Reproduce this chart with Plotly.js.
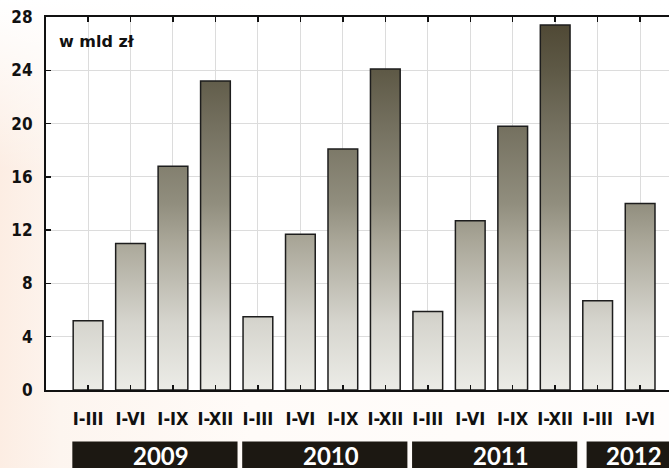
<!DOCTYPE html>
<html>
<head>
<meta charset="utf-8">
<script src="https://cdn.plot.ly/plotly-3.0.1.min.js"></script>
<style>
  html, body { margin: 0; padding: 0; }
  body {
    width: 669px; height: 468px; overflow: hidden;
    background:
      linear-gradient(to bottom, #ffffff 0px, rgba(255,255,255,0) 170px),
      linear-gradient(to right, #fcede3 0px, #fdf5ef 60px, #fffbf8 250px, #fffdfc 669px);
  }
  #chart { width: 669px; height: 468px; }
</style>
</head>
<body>
<div id="chart"></div>
<script>
// Data
const periods = ["I-III", "I-VI", "I-IX", "I-XII",
                 "I-III", "I-VI", "I-IX", "I-XII",
                 "I-III", "I-VI", "I-IX", "I-XII",
                 "I-III", "I-VI"];
const values = [5.2, 11.0, 16.8, 23.2,
                5.5, 11.7, 18.1, 24.1,
                5.9, 12.7, 19.8, 27.4,
                6.7, 14.0];
const years = ["2009", "2010", "2011", "2012"];
const yearFirst = [0, 4, 8, 12];
const yearLast = [3, 7, 11, 13];
const yTicks = [0, 4, 8, 12, 16, 20, 24, 28];
const unitLabel = "w mld zł";

const idx = periods.map((_, i) => i);

const trace = {
  type: "bar",
  x: idx,
  y: values,
  width: 0.7,
  marker: { color: "#a8a597", line: { color: "#1d1d1d", width: 1.5 } },
  hoverinfo: "y"
};

const shapes = [];
const annotations = [];
years.forEach((yr, k) => {
  const last = (k === years.length - 1);
  const x0 = yearFirst[k] - (last ? 0.26 : 0.37);
  const x1 = last ? 14.5 : yearLast[k] + 0.52;
  shapes.push({
    type: "rect", xref: "x", yref: "paper",
    x0: x0, x1: x1, y0: -0.138, y1: -0.25,
    fillcolor: "#1c1812", line: { width: 0 }, layer: "above"
  });
  const xc = last ? 12.85 : (x0 + x1) / 2 + 0.15;
  annotations.push({
    xref: "x", yref: "paper", x: xc, y: -0.174,
    text: "<b>" + yr + "</b>", showarrow: false,
    xanchor: "center", yanchor: "middle",
    height: 24, borderpad: 0, valign: "middle",
    font: { family: "Lato, 'Open Sans', sans-serif", size: 24, color: "#ffffff" }
  });
});
annotations.push({
  xref: "paper", yref: "paper", x: 0.018, y: 0.935,
  text: "<b>" + unitLabel + "</b>", showarrow: false,
  xanchor: "left", yanchor: "middle",
  font: { family: "'DejaVu Sans', sans-serif", size: 16, color: "#111111" }
});

const layout = {
  width: 669, height: 468,
  margin: { l: 46, r: 0, t: 17, b: 78 },
  paper_bgcolor: "rgba(0,0,0,0)",
  plot_bgcolor: "#ffffff",
  showlegend: false,
  xaxis: {
    range: [-0.99, 13.68],
    tickvals: idx, ticktext: periods,
    ticks: "inside", ticklen: 5, tickwidth: 1.5, tickcolor: "#111",
    showline: true, linecolor: "#111", linewidth: 2, mirror: "ticks",
    showgrid: true, gridcolor: "#dcdcdc", gridwidth: 1,
    zeroline: false,
    ticklabelstandoff: 11,
    tickfont: { family: "'Liberation Sans Narrow', 'DejaVu Sans Condensed', sans-serif", size: 18, color: "#111", weight: "bold" }
  },
  yaxis: {
    range: [0, 28],
    tickvals: yTicks,
    ticks: "inside", ticklen: 5, tickwidth: 1.5, tickcolor: "#111",
    showline: true, linecolor: "#111", linewidth: 2, mirror: false,
    showgrid: true, gridcolor: "#dcdcdc", gridwidth: 1,
    zeroline: false,
    ticklabelstandoff: 8,
    tickfont: { family: "'Liberation Sans Narrow', 'DejaVu Sans Condensed', sans-serif", size: 17, color: "#111", weight: "bold" }
  },
  shapes: shapes,
  annotations: annotations
};

const gradStops = [
  [0, "#ecece7"], [5, "#d6d5ce"], [11, "#aba89a"], [14, "#918e7e"],
  [20, "#736f5e"], [24, "#5e5946"], [28, "#4d4632"]
];

function applyGradient(gd) {
  const svg = gd.querySelector(".main-svg");
  if (!svg) return;
  let defs = svg.querySelector("defs");
  const ns = "http://www.w3.org/2000/svg";
  let grad = svg.querySelector("#barGrad");
  if (grad) grad.remove();
  grad = document.createElementNS(ns, "linearGradient");
  grad.setAttribute("id", "barGrad");
  grad.setAttribute("gradientUnits", "userSpaceOnUse");
  const ya = gd._fullLayout.yaxis;
  grad.setAttribute("x1", "0"); grad.setAttribute("x2", "0");
  grad.setAttribute("y1", String(ya.l2p(0)));
  grad.setAttribute("y2", String(ya.l2p(28)));
  gradStops.forEach(s => {
    const st = document.createElementNS(ns, "stop");
    st.setAttribute("offset", String(s[0] / 28));
    st.setAttribute("stop-color", s[1]);
    grad.appendChild(st);
  });
  defs.appendChild(grad);
  gd.querySelectorAll(".barlayer .trace path").forEach(p => {
    p.style.fill = "url(#barGrad)";
  });
}

const gd = document.getElementById("chart");
Plotly.newPlot(gd, [trace], layout, { displayModeBar: false, staticPlot: true }).then(() => applyGradient(gd));
</script>
</body>
</html>
